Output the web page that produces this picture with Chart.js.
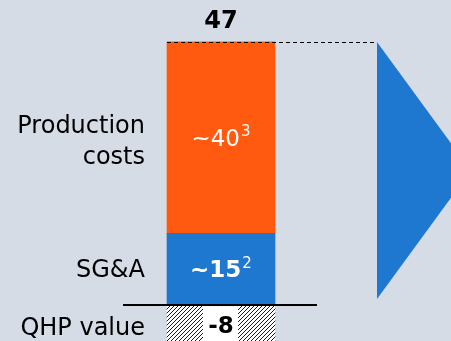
<!DOCTYPE html>
<html>
<head>
<meta charset="utf-8">
<script src="https://cdn.jsdelivr.net/npm/chart.js@4"></script>
<style>
  html, body { margin: 0; padding: 0; background: #d6dce5; }
  #wrap { width: 451px; height: 341px; }
</style>
</head>
<body>
<div id="wrap"><canvas id="costChart" width="451" height="341"></canvas></div>
<script>
// cost build-up
const segments = ["SG&A", "Production costs", "QHP value"];
const values = [15, 40, -8];
const valueLabels = ["~15", "~40", "-8"];
const footnotes = ["2", "3", ""];
const totalValue = values.reduce((a, b) => a + b, 0);

const FONT = "'DejaVu Sans', Verdana, sans-serif";

// diagonal hatch for the negative piece
function hatchPattern() {
    const c = document.createElement("canvas");
    c.width = 4; c.height = 4;
    const g = c.getContext("2d");
    g.fillStyle = "#ffffff";
    g.fillRect(0, 0, 4, 4);
    g.strokeStyle = "#000000";
    g.lineWidth = 0.9;
    g.beginPath();
    g.moveTo(0, 4); g.lineTo(4, 0);
    g.moveTo(-1, 1); g.lineTo(1, -1);
    g.moveTo(3, 5); g.lineTo(5, 3);
    g.stroke();
    return g.createPattern(c, "repeat");
}

const fills = ["#1f78d0", "#ff5a10", hatchPattern()];

const decorations = {
    id: "decorations",
    afterDatasetsDraw(chart) {
        const ctx = chart.ctx;
        const y = chart.scales.y;
        const bars = chart.data.datasets.map((d, i) => chart.getDatasetMeta(i).data[0]);
        const first = bars[0];
        const left = first.x - first.width / 2;
        const zeroY = y.getPixelForValue(0);
        const topY = Math.min(...bars.map(b => Math.min(b.y, b.base)));

        ctx.save();

        // baseline
        ctx.strokeStyle = "#000";
        ctx.lineWidth = 2;
        ctx.beginPath();
        ctx.moveTo(first.x - 98, zeroY);
        ctx.lineTo(first.x + 96, zeroY);
        ctx.stroke();

        // dashed top guide and arrow
        ctx.lineWidth = 1.2;
        ctx.setLineDash([4, 3]);
        ctx.beginPath();
        ctx.moveTo(left, Math.round(topY) + 0.5);
        ctx.lineTo(377, Math.round(topY) + 0.5);
        ctx.stroke();
        ctx.setLineDash([]);

        ctx.fillStyle = "#1f78d0";
        ctx.beginPath();
        ctx.moveTo(377, topY);
        ctx.lineTo(471, 170.5);
        ctx.lineTo(377, 299);
        ctx.closePath();
        ctx.fill();

        // segment names on the left
        ctx.fillStyle = "#000";
        ctx.textAlign = "right";
        ctx.textBaseline = "middle";
        ctx.font = "24px " + FONT;
        bars.forEach((b, i) => {
            const midY = i === 2 ? 327 : (b.y + b.base) / 2;
            const words = segments[i] === "Production costs" ? ["Production", "costs"] : [segments[i]];
            words.forEach((w, k) => {
                const shift = words.length > 1 ? 5 : 2;
                ctx.fillText(w, 145, midY + (k - (words.length - 1) / 2) * 31 + shift);
            });
        });

        // values inside the bar
        bars.forEach((b, i) => {
            const midY = i === 2 ? 325 : (b.y + b.base) / 2;
            const weight = i === 1 ? "" : "bold ";
            ctx.font = weight + "23px " + FONT;
            const main = valueLabels[i];
            const mw = ctx.measureText(main).width;
            ctx.font = "15px " + FONT;
            const sw = footnotes[i] ? ctx.measureText(footnotes[i]).width + 1 : 0;
            const startX = b.x - (mw + sw) / 2;
            if (i === 2) {
                ctx.fillStyle = "#fff";
                ctx.fillRect(b.x - 18, zeroY + 1, 35, 40);
                ctx.fillStyle = "#000";
            } else {
                ctx.fillStyle = "#fff";
            }
            ctx.textAlign = "left";
            ctx.font = weight + "23px " + FONT;
            ctx.fillText(main, startX, midY + 2);
            if (footnotes[i]) {
                ctx.font = "15px " + FONT;
                ctx.fillText(footnotes[i], startX + mw + 1, midY - 5);
            }
        });

        // total above the stack
        ctx.fillStyle = "#000";
        ctx.textAlign = "center";
        ctx.font = "bold 24px " + FONT;
        ctx.fillText(String(totalValue), first.x, topY - 20);

        ctx.restore();
    }
};

new Chart(document.getElementById("costChart"), {
    type: "bar",
    data: {
        labels: [""],
        datasets: segments.map((s, i) => ({
            label: s,
            data: [values[i]],
            backgroundColor: fills[i],
            borderWidth: 0,
            barThickness: 108
        }))
    },
    options: {
        responsive: false,
        devicePixelRatio: 1,
        animation: false,
        layout: { padding: { left: 0, right: 9, top: 0, bottom: 0 } },
        plugins: { legend: { display: false }, tooltip: { enabled: false } },
        scales: {
            x: { stacked: true, display: false },
            y: { stacked: true, display: false, min: -7.5, max: 63.75 }
        }
    },
    plugins: [decorations]
});
</script>
</body>
</html>
